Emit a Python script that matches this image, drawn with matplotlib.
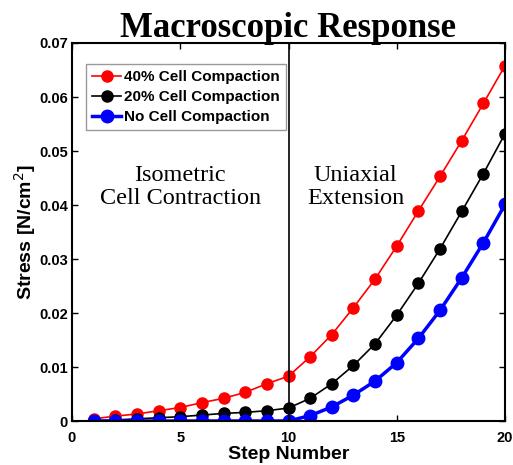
import matplotlib
matplotlib.use("Agg")
import matplotlib.pyplot as plt

steps = list(range(1, 21))
red_40 = [0.0004, 0.0009, 0.0013, 0.0019, 0.0025, 0.0034, 0.0042, 0.0053, 0.0069, 0.0083,
          0.0119, 0.0160, 0.0210, 0.0263, 0.0324, 0.0389, 0.0453, 0.0519, 0.0588, 0.0658]
black_20 = [0.0000, 0.0002, 0.0004, 0.0006, 0.0008, 0.0011, 0.0014, 0.0016, 0.0019, 0.0024,
            0.0042, 0.0069, 0.0103, 0.0143, 0.0196, 0.0255, 0.0319, 0.0388, 0.0458, 0.0532]
blue_0 = [0.0, 0.0, 0.0, 0.0, 0.0, 0.0, 0.0, 0.0, 0.0, 0.0,
          0.0010, 0.0026, 0.0048, 0.0074, 0.0108, 0.0153, 0.0205, 0.0265, 0.0330, 0.0401]
labels = ['40% Cell Compaction', '20% Cell Compaction', 'No Cell Compaction']

fig = plt.figure(figsize=(5.13, 4.65), dpi=100)
ax = fig.add_axes([72/513, 1 - 421/465, 433/513, 378/465])

ax.plot(steps, red_40, '-o', color='red', lw=1.2, ms=8, label=labels[0])
ax.plot(steps, black_20, '-o', color='black', lw=1.2, ms=8, label=labels[1])
ax.plot(steps, blue_0, '-o', color='blue', lw=2.5, ms=9, label=labels[2])
ax.axvline(10, color='black', lw=1.2)

ax.set_xlim(0, 20)
ax.set_ylim(0, 0.07)
ax.set_xticks([0, 5, 10, 15, 20])
ax.set_yticks([0, 0.01, 0.02, 0.03, 0.04, 0.05, 0.06, 0.07])
ax.set_yticklabels(['0', '0.01', '0.02', '0.03', '0.04', '0.05', '0.06', '0.07'])
ax.tick_params(direction='in', top=True, right=True, length=4, width=1)
ax.tick_params(axis='x', pad=7)
ax.tick_params(axis='y', pad=3)
for lab in ax.get_xticklabels() + ax.get_yticklabels():
    lab.set_family('Liberation Sans')
    lab.set_fontweight('bold')
    lab.set_fontsize(10.5)
for s in ax.spines.values():
    s.set_linewidth(1.5)

ax.set_xlabel('Step Number', family='Liberation Sans', fontweight='bold', fontsize=14, labelpad=1)
ax.set_ylabel('Stress [N/cm$^2$]', family='Liberation Sans', fontweight='bold', fontsize=14, labelpad=1)
ax.set_title('Macroscopic Response', family='Liberation Serif', fontweight='bold', fontsize=25, pad=4)

ax.text(5, 0.0433, 'Isometric\nCell Contraction', family='Liberation Serif', fontsize=17.5,
        ha='center', va='center', linespacing=1.15)
ax.text(13.1, 0.0433, 'Uniaxial\nExtension', family='Liberation Serif', fontsize=17.5,
        ha='center', va='center', linespacing=1.15)

leg = ax.legend(loc='upper left', bbox_to_anchor=(0.015, 0.965), fancybox=False,
                prop={'family': 'Liberation Sans', 'weight': 'bold', 'size': 11},
                handlelength=1.9, handletextpad=0.2, labelspacing=0.4, borderpad=0.4)
leg.get_frame().set_edgecolor('gray')
leg.get_frame().set_linewidth(1)

fig.savefig('out.png', dpi=100)
